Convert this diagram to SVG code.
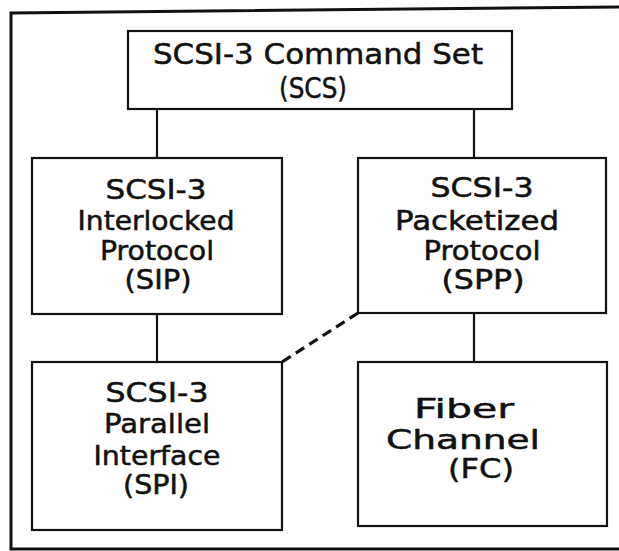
<svg xmlns="http://www.w3.org/2000/svg" width="619" height="551" viewBox="0 0 619 551">
  <style>
    .box { fill: #ffffff; stroke: #111111; stroke-width: 2.2; }
    .frame { fill: none; stroke: #111111; stroke-width: 3; }
    .link { fill: none; stroke: #111111; stroke-width: 2.2; }
    .dash { fill: none; stroke: #111111; stroke-width: 3.2; stroke-dasharray: 10 6; }
    .lbl { font-family: "DejaVu Sans", "Liberation Sans", sans-serif; font-size: 26px; fill: #111111; stroke: #111111; stroke-width: 0.5; text-anchor: middle; }
    .big { font-size: 28px; }
  </style>
  <rect width="619" height="551" fill="#ffffff"/>

  <!-- outer frame -->
  <path class="frame" d="M621,7 L11,13 L11,549 L621,549"/>

  <!-- connectors -->
  <g id="connectors">
    <line class="link" x1="157" y1="109" x2="157" y2="158"/>
    <line class="link" x1="474" y1="109" x2="474" y2="158"/>
    <line class="link" x1="157" y1="314" x2="157" y2="362"/>
    <line class="link" x1="474" y1="313" x2="474" y2="362"/>
    <line class="dash" x1="358" y1="313" x2="282" y2="362"/>
  </g>

  <g id="scs">
    <rect class="box" x="128" y="31" width="384" height="78"/>
    <text class="lbl big" x="318" y="64" textLength="330" lengthAdjust="spacingAndGlyphs">SCSI-3 Command Set</text>
    <text class="lbl big" x="313" y="98" textLength="68" lengthAdjust="spacingAndGlyphs">(SCS)</text>
  </g>

  <g id="sip">
    <rect class="box" x="32" y="158" width="250" height="156"/>
    <text class="lbl" x="156" y="199" textLength="101" lengthAdjust="spacingAndGlyphs">SCSI-3</text>
    <text class="lbl" x="156" y="230" textLength="157" lengthAdjust="spacingAndGlyphs">Interlocked</text>
    <text class="lbl" x="157" y="260" textLength="114" lengthAdjust="spacingAndGlyphs">Protocol</text>
    <text class="lbl" x="158" y="289" textLength="67" lengthAdjust="spacingAndGlyphs">(SIP)</text>
  </g>

  <g id="spp">
    <rect class="box" x="358" y="158" width="248" height="155"/>
    <text class="lbl" x="482" y="197" textLength="103" lengthAdjust="spacingAndGlyphs">SCSI-3</text>
    <text class="lbl" x="477" y="230" textLength="164" lengthAdjust="spacingAndGlyphs">Packetized</text>
    <text class="lbl" x="482" y="260" textLength="117" lengthAdjust="spacingAndGlyphs">Protocol</text>
    <text class="lbl" x="483" y="289" textLength="83" lengthAdjust="spacingAndGlyphs">(SPP)</text>
  </g>

  <g id="spi">
    <rect class="box" x="32" y="362" width="250" height="168"/>
    <text class="lbl" x="157" y="402" textLength="103" lengthAdjust="spacingAndGlyphs">SCSI-3</text>
    <text class="lbl" x="157" y="433" textLength="106" lengthAdjust="spacingAndGlyphs">Parallel</text>
    <text class="lbl" x="157" y="465" textLength="127" lengthAdjust="spacingAndGlyphs">Interface</text>
    <text class="lbl" x="156" y="494" textLength="66" lengthAdjust="spacingAndGlyphs">(SPI)</text>
  </g>

  <g id="fc">
    <rect class="box" x="358" y="362" width="249" height="164"/>
    <text class="lbl" x="464" y="418" textLength="100" lengthAdjust="spacingAndGlyphs">Fiber</text>
    <text class="lbl" x="463" y="449" textLength="154" lengthAdjust="spacingAndGlyphs">Channel</text>
    <text class="lbl" x="481" y="478" textLength="66" lengthAdjust="spacingAndGlyphs">(FC)</text>
  </g>
</svg>
